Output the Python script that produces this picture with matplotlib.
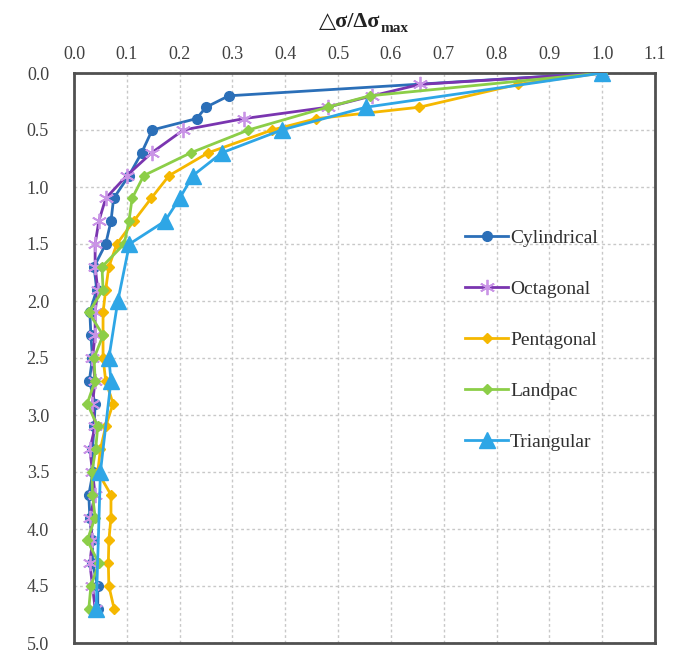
import matplotlib
matplotlib.use("Agg")
import matplotlib.pyplot as plt

depth_cyl = [0.0, 0.2, 0.3, 0.4, 0.5, 0.7, 0.9, 1.1, 1.3, 1.5, 1.7, 1.9, 2.1, 2.3, 2.5, 2.7, 2.9, 3.1, 3.3, 3.5, 3.7, 3.9, 4.1, 4.3, 4.5, 4.7]
cylindrical = [1.0, 0.293, 0.25, 0.232, 0.148, 0.128, 0.104, 0.075, 0.07, 0.06, 0.038, 0.043, 0.03, 0.032, 0.035, 0.029, 0.04, 0.038, 0.035, 0.036, 0.028, 0.03, 0.035, 0.035, 0.045, 0.045]

depth_oct = [0.0, 0.1, 0.2, 0.3, 0.4, 0.5, 0.7, 0.9, 1.1, 1.3, 1.5, 1.7, 1.9, 2.1, 2.3, 2.5, 2.7, 2.9, 3.1, 3.3, 3.5, 3.7, 3.9, 4.1, 4.3, 4.5, 4.7]
octagonal = [1.0, 0.655, 0.565, 0.48, 0.322, 0.207, 0.147, 0.10, 0.06, 0.047, 0.04, 0.04, 0.045, 0.04, 0.04, 0.035, 0.04, 0.035, 0.04, 0.03, 0.035, 0.04, 0.03, 0.035, 0.03, 0.035, 0.04]

depth_pen = [0.0, 0.1, 0.3, 0.4, 0.5, 0.7, 0.9, 1.1, 1.3, 1.5, 1.7, 1.9, 2.1, 2.3, 2.5, 2.7, 2.9, 3.1, 3.3, 3.5, 3.7, 3.9, 4.1, 4.3, 4.5, 4.7]
pentagonal = [1.0, 0.84, 0.654, 0.459, 0.375, 0.254, 0.18, 0.146, 0.113, 0.081, 0.066, 0.06, 0.055, 0.055, 0.055, 0.06, 0.074, 0.06, 0.05, 0.045, 0.07, 0.07, 0.066, 0.065, 0.066, 0.076]

depth_lan = [0.0, 0.2, 0.3, 0.5, 0.7, 0.9, 1.1, 1.3, 1.5, 1.7, 1.9, 2.1, 2.3, 2.5, 2.7, 2.9, 3.1, 3.3, 3.5, 3.7, 3.9, 4.1, 4.3, 4.5, 4.7]
landpac = [1.0, 0.56, 0.48, 0.33, 0.221, 0.132, 0.11, 0.104, 0.095, 0.053, 0.055, 0.028, 0.055, 0.038, 0.04, 0.025, 0.045, 0.041, 0.034, 0.035, 0.04, 0.025, 0.047, 0.032, 0.028]

depth_tri = [0.0, 0.3, 0.5, 0.7, 0.9, 1.1, 1.3, 1.5, 2.0, 2.5, 2.7, 3.5, 4.7]
triangular = [1.0, 0.553, 0.393, 0.28, 0.225, 0.2, 0.172, 0.105, 0.083, 0.066, 0.07, 0.05, 0.042]

x_ticks = [0.0, 0.1, 0.2, 0.3, 0.4, 0.5, 0.6, 0.7, 0.8, 0.9, 1.0, 1.1]
y_ticks = [0.0, 0.5, 1.0, 1.5, 2.0, 2.5, 3.0, 3.5, 4.0, 4.5, 5.0]

plt.rcParams['font.family'] = ['Liberation Serif', 'DejaVu Serif']

fig = plt.figure(figsize=(6.84, 6.52), dpi=100)
ax = fig.add_axes([74/684, 1 - 643/652, (655-74)/684, (643-73)/652])

ax.plot(cylindrical, depth_cyl, color='#2b6fb8', lw=2, marker='o', ms=7, label='Cylindrical', zorder=3)
ax.plot(octagonal, depth_oct, color='#7a35b0', lw=2, marker=(6, 2, 0), ms=11,
        mec='#c994e6', mew=1.3, label='Octagonal', zorder=3)
ax.plot(pentagonal, depth_pen, color='#f5b800', lw=2, marker='D', ms=5, label='Pentagonal', zorder=3)
ax.plot(landpac, depth_lan, color='#8cce48', lw=2, marker='D', ms=5, label='Landpac', zorder=3)
ax.plot(triangular, depth_tri, color='#2ea6e6', lw=2, marker='^', ms=11, label='Triangular', zorder=4)

ax.set_xlim(0, 1.1)
ax.set_ylim(5.0, 0.0)
ax.set_xticks(x_ticks)
ax.set_yticks(y_ticks)
ax.set_xticklabels([f'{v:.1f}' for v in x_ticks])
ax.set_yticklabels([f'{v:.1f}' for v in y_ticks])
ax.xaxis.tick_top()
ax.tick_params(axis='both', length=0, labelsize=13, colors='#404040')
ax.tick_params(axis='x', pad=7)
ax.tick_params(axis='y', pad=18)
ax.grid(True, linestyle=(0, (2, 2)), color='#c8c8c8', lw=1)
ax.set_axisbelow(True)
for s in ax.spines.values():
    s.set_color('#505050')
    s.set_linewidth(2)

# Axis title: "△σ/Δσ" with subscript "max"
title_y = 1 - 22/652
t_main = fig.text(0.5, title_y, '△σ/Δσ', fontsize=16, fontweight='bold', color='#222222',
                  family=['Liberation Serif', 'DejaVu Sans'], ha='left', va='center')
t_sub = fig.text(0.5, title_y, 'max', fontsize=11, fontweight='bold', color='#222222',
                 family=['Liberation Serif'], ha='left', va='center')
fig.canvas.draw()
r = fig.canvas.get_renderer()
w_main = t_main.get_window_extent(r).width
w_sub = t_sub.get_window_extent(r).width
total = w_main + w_sub
center_px = 364
x0 = center_px - total / 2
t_main.set_x(x0 / 684)
t_sub.set_x((x0 + w_main) / 684)
t_sub.set_y(title_y - 6/652)

leg = ax.legend(loc='upper left', bbox_to_anchor=(0.66, 0.74), frameon=False,
                fontsize=14, labelspacing=1.72, handlelength=2.2, handletextpad=0.1,
                borderaxespad=0)
for t in leg.get_texts():
    t.set_color('#303030')

fig.savefig('out.png', dpi=100)
